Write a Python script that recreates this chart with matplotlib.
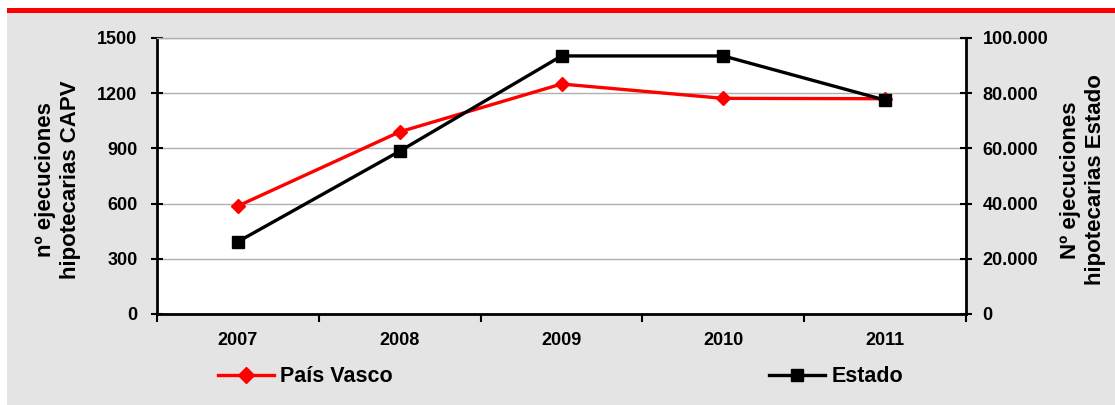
import matplotlib.pyplot as plt
from matplotlib.patches import Rectangle
from matplotlib.lines import Line2D

# Data
years = ['2007', '2008', '2009', '2010', '2011']
pais_vasco = [587, 990, 1250, 1172, 1170]
estado = [26200, 59000, 93500, 93500, 77500]
left_ticks = [0, 300, 600, 900, 1200, 1500]
right_ticks = [0, 20000, 40000, 60000, 80000, 100000]
right_labels = ['0', '20.000', '40.000', '60.000', '80.000', '100.000']

plt.rcParams['font.family'] = ['Liberation Sans', 'DejaVu Sans']

fig = plt.figure(figsize=(11.15, 4.05), dpi=100)
fig.patch.set_facecolor('white')
# gray panel and red top band (behind the axes)
fig.patches.append(Rectangle((7 / 1115, 0), 1, 1 - 13 / 405, transform=fig.transFigure,
                             facecolor='#e4e4e4', edgecolor='none', zorder=-2))
fig.patches.append(Rectangle((7 / 1115, 1 - 13 / 405), 1, 5 / 405, transform=fig.transFigure,
                             facecolor='#ff0000', edgecolor='none', zorder=-2))

ax = fig.add_axes([157 / 1115, 1 - 314 / 405, (966 - 157) / 1115, (314 - 38) / 405])
ax.set_facecolor('white')
x = range(len(years))

ax.plot(x, pais_vasco, color='#ff0000', lw=2.4, marker='D', markersize=7, zorder=3)
ax.set_xlim(-0.5, 4.5)
ax.set_ylim(0, 1500)
ax.set_yticks(left_ticks)
ax.set_yticklabels([str(t) for t in left_ticks], fontsize=13, fontweight='bold')
ax.grid(axis='y', color='#b0b0b0', lw=1)
ax.set_axisbelow(True)

ax.set_xticks(x)
ax.set_xticklabels(years, fontsize=13, fontweight='bold')
ax.tick_params(axis='x', length=0, pad=13)
ax.set_xticks([i - 0.5 for i in range(len(years) + 1)], minor=True)
ax.tick_params(axis='x', which='minor', length=6, width=1.5, direction='out')
ax.tick_params(axis='y', length=8, width=1.5, direction='inout', pad=10)

for s in ['left', 'bottom']:
    ax.spines[s].set_linewidth(2)
    ax.spines[s].set_color('black')
ax.spines['top'].set_color('#b0b0b0')
ax.spines['top'].set_linewidth(1)
ax.spines['right'].set_visible(False)

ax2 = ax.twinx()
ax2.plot(x, estado, color='black', lw=2.4, marker='s', markersize=8, zorder=4)
ax2.set_ylim(0, 100000)
ax2.set_yticks(right_ticks)
ax2.set_yticklabels(right_labels, fontsize=13, fontweight='bold')
ax2.tick_params(axis='y', length=8, width=1.5, direction='inout', pad=8)
for s in ['left', 'bottom', 'top']:
    ax2.spines[s].set_visible(False)
ax2.spines['right'].set_linewidth(2)

fig.text(58 / 1115, 1 - 180 / 405, 'nº ejecuciones\nhipotecarias CAPV', rotation=90,
         ha='center', va='center', fontsize=16, fontweight='bold', linespacing=1.3)
fig.text(1083 / 1115, 1 - 180 / 405, 'Nº ejecuciones\nhipotecarias Estado', rotation=90,
         ha='center', va='center', fontsize=16, fontweight='bold', linespacing=1.3)

legfont = {'size': 15.5, 'weight': 'bold'}
h1 = Line2D([], [], color='#ff0000', lw=2.4, marker='D', markersize=8)
h2 = Line2D([], [], color='black', lw=2.4, marker='s', markersize=8)
fig.legend([h1], ['País Vasco'], loc='center left', bbox_to_anchor=(218 / 1115, 1 - 377 / 405),
           frameon=False, prop=legfont, handlelength=2.6, handletextpad=0.3, borderpad=0,
           borderaxespad=0)
fig.legend([h2], ['Estado'], loc='center left', bbox_to_anchor=(769 / 1115, 1 - 377 / 405),
           frameon=False, prop=legfont, handlelength=2.6, handletextpad=0.3, borderpad=0,
           borderaxespad=0)

fig.savefig('out.png', dpi=100, facecolor=fig.get_facecolor())
